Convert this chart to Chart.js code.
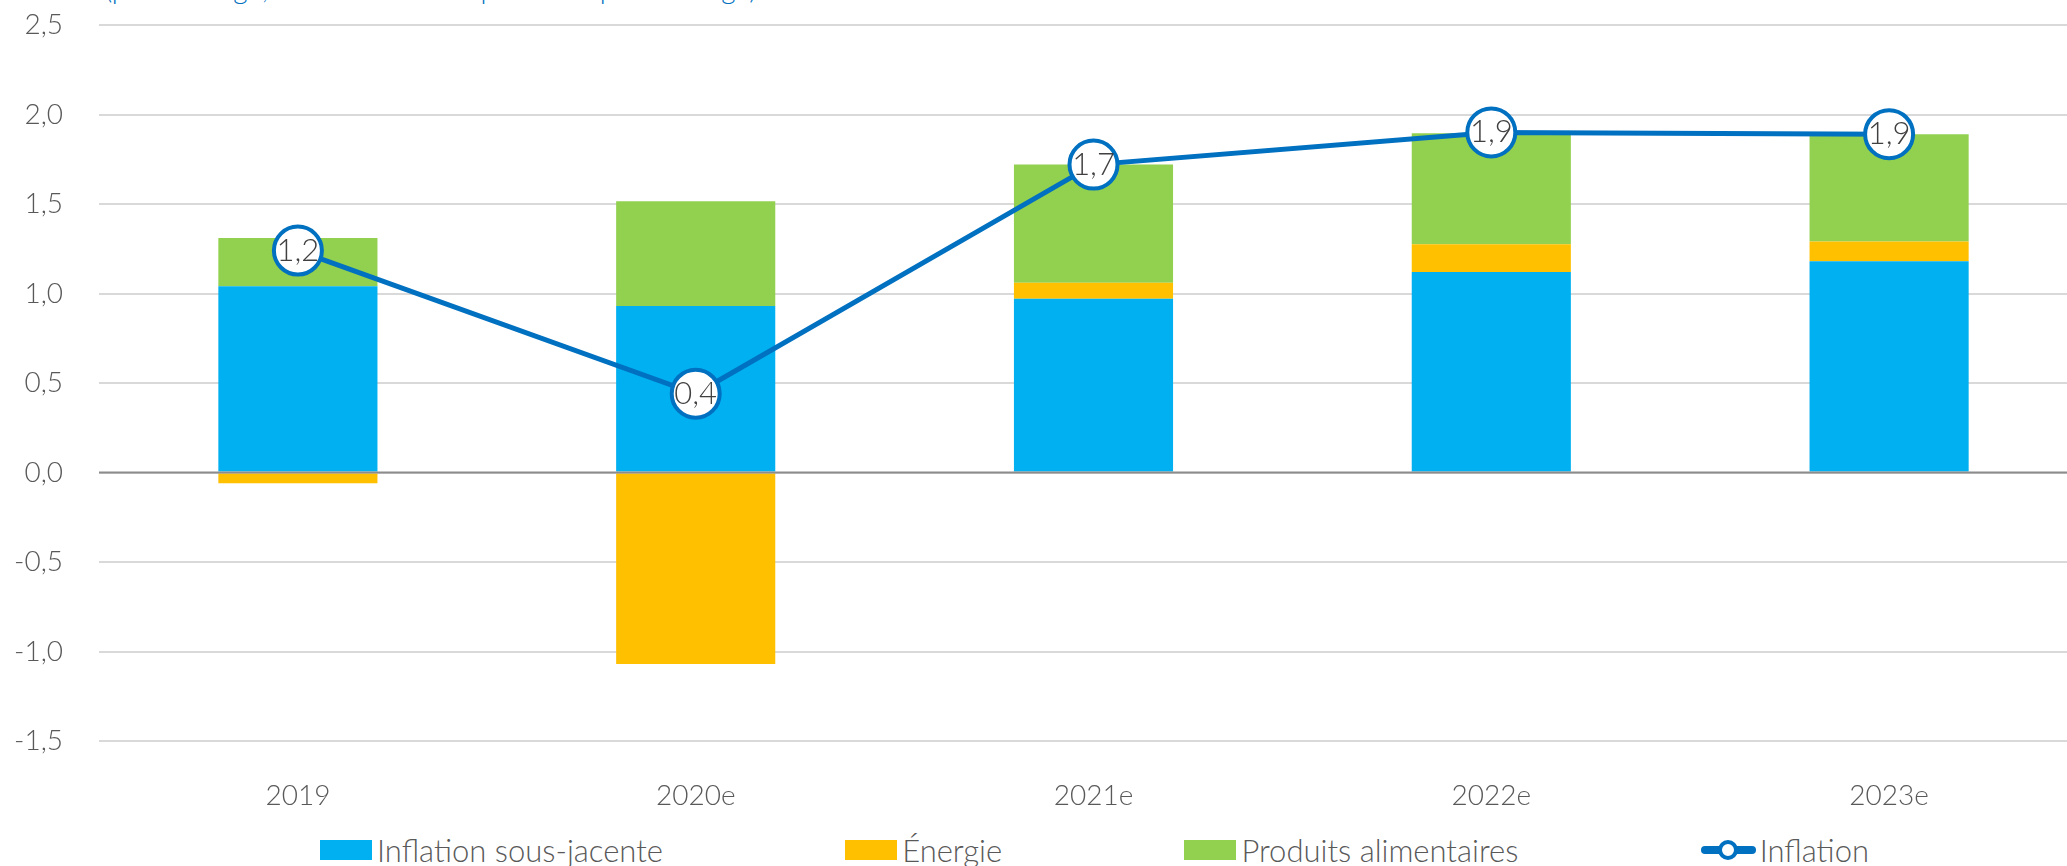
<!DOCTYPE html>
<html lang="fr">
<head>
<meta charset="utf-8">
<script src="https://cdn.jsdelivr.net/npm/chart.js@4.4.1/dist/chart.umd.min.js"></script>
<style>
  html, body { margin:0; padding:0; background:#fff; overflow:hidden; }
  #wrap { position:relative; width:2067px; height:866px; overflow:hidden; }
  #chart { position:absolute; left:0; top:0; }
  #note { position:absolute; left:105px; top:-26px; font:300 28px Lato, sans-serif; line-height:28px; color:#0070C0; white-space:nowrap; }
  #legend { position:absolute; left:320px; width:1549px; top:830px; height:40px; display:flex; justify-content:space-between; align-items:center; font:300 31px Lato, sans-serif; color:#595959; }
  .item { display:flex; align-items:center; white-space:nowrap; }
  .box { width:52px; height:20px; margin-right:5px; }
  .mark { position:relative; width:55px; height:24px; margin-right:4px; }
  .mark .ln { position:absolute; left:0; top:8px; width:55px; height:8px; border-radius:4px; background:#0070C0; }
  .mark .dot { position:absolute; left:17px; top:2px; width:12px; height:12px; border:4px solid #0070C0; border-radius:50%; background:#fff; }
</style>
</head>
<body>
<div id="wrap">
  <div id="note">(pourcentage, contributions en points de pourcentage)</div>
  <canvas id="chart" width="2090" height="820"></canvas>
  <div id="legend"></div>
</div>
<script>
// values
const categories = ['2019', '2020e', '2021e', '2022e', '2023e'];
const coreValues = [1.04, 0.93, 0.97, 1.12, 1.18];
const energyValues = [-0.06, -1.07, 0.09, 0.155, 0.11];
const foodValues = [0.27, 0.585, 0.66, 0.62, 0.60];
const inflationValues = [1.24, 0.44, 1.72, 1.90, 1.89];
const yMin = -1.5, yMax = 2.5, yStep = 0.5;

const seriesNames = ['Inflation sous-jacente', 'Énergie', 'Produits alimentaires', 'Inflation'];
const colors = ['#00B0F0', '#FFC000', '#92D050', '#0070C0'];

const fmt = v => v.toFixed(1).replace('.', ',');

Chart.defaults.font.family = 'Lato, sans-serif';
Chart.defaults.font.weight = 300;
Chart.defaults.color = '#595959';

const overlay = {
  id: 'overlay',
  afterDatasetsDraw(chart) {
    const ctx = chart.ctx;
    const area = chart.chartArea;
    const y0 = chart.scales.y.getPixelForValue(0);
    ctx.save();
    ctx.strokeStyle = '#8c8c8c';
    ctx.lineWidth = 2;
    ctx.beginPath();
    ctx.moveTo(area.left, y0);
    ctx.lineTo(area.right, y0);
    ctx.stroke();
    // values inside the inflation markers
    const meta = chart.getDatasetMeta(3);
    ctx.font = '300 31px Lato, sans-serif';
    ctx.fillStyle = '#404040';
    ctx.textAlign = 'center';
    ctx.textBaseline = 'middle';
    meta.data.forEach((pt, i) => ctx.fillText(fmt(inflationValues[i]), pt.x, pt.y));
    ctx.restore();
  }
};

const chart = new Chart(document.getElementById('chart'), {
  data: {
    labels: categories,
    datasets: [
      {type:'bar', label:seriesNames[0], data:coreValues, backgroundColor:colors[0], stack:'s', barPercentage:0.4, categoryPercentage:1},
      {type:'bar', label:seriesNames[1], data:energyValues, backgroundColor:colors[1], stack:'s', barPercentage:0.4, categoryPercentage:1},
      {type:'bar', label:seriesNames[2], data:foodValues, backgroundColor:colors[2], stack:'s', barPercentage:0.4, categoryPercentage:1},
      {type:'line', label:seriesNames[3], data:inflationValues, borderColor:colors[3], borderWidth:5,
       pointRadius:24, pointBorderWidth:4, pointBackgroundColor:'#fff', pointBorderColor:colors[3],
       tension:0, stack:'line', order:-1, clip:false}
    ]
  },
  options: {
    responsive: false,
    animation: false,
    layout: {autoPadding:false, padding: {top:25, right:2, left:0, bottom:0}},
    plugins: {legend: {display:false}, tooltip: {enabled:false}},
    scales: {
      x: {
        stacked: true,
        grid: {display:false},
        border: {display:false},
        ticks: {font:{size:28}, padding:30},
        afterFit: s => { s.height = 79; }
      },
      y: {
        stacked: true,
        min: yMin, max: yMax,
        ticks: {stepSize:yStep, font:{size:28}, padding:36, callback: v => fmt(v)},
        grid: {color:'#d9d9d9', lineWidth:2, drawTicks:false},
        border: {display:false},
        afterFit: s => { s.width = 99; s.paddingTop = 0; s.paddingBottom = 0; }
      }
    }
  },
  plugins: [overlay]
});

// legend built from the chart's datasets
const legend = document.getElementById('legend');
chart.data.datasets.forEach((ds, i) => {
  const item = document.createElement('div');
  item.className = 'item';
  const sym = document.createElement('div');
  if (ds.type === 'line') {
    sym.className = 'mark';
    sym.innerHTML = '<div class="ln"></div><div class="dot"></div>';
  } else {
    sym.className = 'box';
    sym.style.background = ds.backgroundColor;
  }
  const txt = document.createElement('span');
  txt.textContent = ds.label;
  item.appendChild(sym);
  item.appendChild(txt);
  legend.appendChild(item);
});
</script>
</body>
</html>
